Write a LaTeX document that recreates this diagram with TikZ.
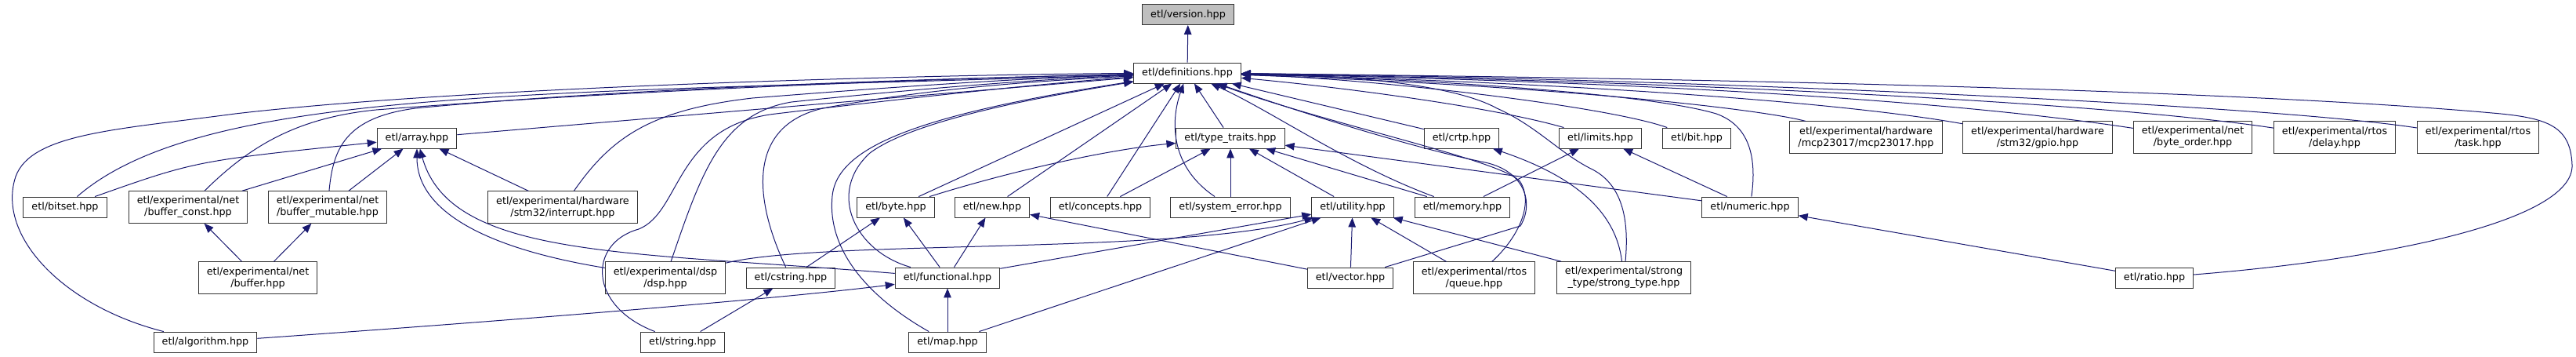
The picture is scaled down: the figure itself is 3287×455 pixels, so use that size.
\documentclass[tikz,border=0pt]{standalone}
\usepackage{fontspec}
\setmainfont{DejaVu Sans}
\definecolor{edgeblue}{HTML}{191970}
\definecolor{rootgray}{HTML}{BFBFBF}
\definecolor{boxline}{HTML}{333333}
\usetikzlibrary{arrows.meta}

\begin{document}
\begin{tikzpicture}[
  x=1pt, y=-1pt,
  file/.style={draw=boxline, fill=white, line width=0.9pt,
               font=\fontsize{12.75}{15}\selectfont, align=center,
               inner xsep=10.6pt, inner ysep=6.5pt, minimum height=26pt},
  dep/.style={edgeblue, line width=1pt, -{Triangle[length=12pt,width=9.5pt]}},
]
\useasboundingbox (0,0) rectangle (3287,455);

\node[file, fill=rootgray] (version) at (1516,18.5) {etl/version.hpp};
\node[file] (defs) at (1515,93) {etl/definitions.hpp};

\node[file] (array) at (532,176) {etl/array.hpp};
\node[file] (typetraits) at (1570,176) {etl/type\_traits.hpp};
\node[file] (crtp) at (1865,176) {etl/crtp.hpp};
\node[file] (limits) at (2042,176) {etl/limits.hpp};
\node[file] (bit) at (2165,176) {etl/bit.hpp};
\node[file] (mcp) at (2381,175) {etl/experimental/hardware\\/mcp23017/mcp23017.hpp};
\node[file] (gpio) at (2600,175) {etl/experimental/hardware\\/stm32/gpio.hpp};
\node[file] (byteorder) at (2798,175) {etl/experimental/net\\/byte\_order.hpp};
\node[file] (delay) at (2979,175) {etl/experimental/rtos\\/delay.hpp};
\node[file] (task) at (3162,175) {etl/experimental/rtos\\/task.hpp};

\node[file] (bitset) at (83,264) {etl/bitset.hpp};
\node[file] (bufconst) at (240,264) {etl/experimental/net\\/buffer\_const.hpp};
\node[file] (bufmut) at (418,264) {etl/experimental/net\\/buffer\_mutable.hpp};
\node[file] (interrupt) at (718,264) {etl/experimental/hardware\\/stm32/interrupt.hpp};
\node[file] (byte) at (1143,264) {etl/byte.hpp};
\node[file] (new) at (1266,264) {etl/new.hpp};
\node[file] (concepts) at (1404,264) {etl/concepts.hpp};
\node[file] (syserror) at (1570,264) {etl/system\_error.hpp};
\node[file] (utility) at (1726,264) {etl/utility.hpp};
\node[file] (memory) at (1866,264) {etl/memory.hpp};
\node[file] (numeric) at (2233,264) {etl/numeric.hpp};

\node[file] (buffer) at (329,354) {etl/experimental/net\\/buffer.hpp};
\node[file] (dsp) at (849,354) {etl/experimental/dsp\\/dsp.hpp};
\node[file] (cstring) at (1009,354) {etl/cstring.hpp};
\node[file] (functional) at (1209,354) {etl/functional.hpp};
\node[file] (vector) at (1723,354) {etl/vector.hpp};
\node[file] (queue) at (1881,354) {etl/experimental/rtos\\/queue.hpp};
\node[file] (strongtype) at (2072,354) {etl/experimental/strong\\\_type/strong\_type.hpp};
\node[file] (ratio) at (2749,354) {etl/ratio.hpp};

\node[file] (algorithm) at (262,436) {etl/algorithm.hpp};
\node[file] (string) at (871,436) {etl/string.hpp};
\node[file] (map) at (1209,436) {etl/map.hpp};

\draw[dep] (defs) -- (version);

% everything that pulls in definitions.hpp
\draw[dep] (array) -- (defs);
\draw[dep] (bitset) .. controls (260,110) and (700,120) .. (defs);
\draw[dep] (algorithm) .. controls (80,390) and (-5,300) .. (20,225) .. controls (40,170) and (150,165) .. (300,145) .. controls (600,110) and (1200,95) .. (defs);
\draw[dep] (bufconst) .. controls (320,185) and (380,150) .. (480,140) .. controls (800,115) and (1200,100) .. (defs);
\draw[dep] (bufmut) .. controls (425,190) and (440,150) .. (530,138) .. controls (800,112) and (1200,100) .. (defs);
\draw[dep] (interrupt) .. controls (780,175) and (830,140) .. (960,125) .. controls (1150,110) and (1300,100) .. (defs);
\draw[dep] (dsp) .. controls (895,220) and (920,145) .. (1010,130) .. controls (1200,110) and (1350,100) .. (defs);
\draw[dep] (string) .. controls (750,390) and (750,310) .. (815,292) .. controls (870,270) and (860,160) .. (990,145) .. controls (1200,120) and (1350,105) .. (defs);
\draw[dep] (cstring) .. controls (960,250) and (955,160) .. (1050,138) .. controls (1200,110) and (1350,102) .. (defs);
\draw[dep] (functional) .. controls (1090,320) and (1055,245) .. (1110,195) .. controls (1170,150) and (1350,120) .. (defs);
\draw[dep] (map) .. controls (1110,380) and (1055,320) .. (1062,250) .. controls (1068,185) and (1180,145) .. (defs);
\draw[dep] (byte) -- (defs);
\draw[dep] (new) -- (defs);
\draw[dep] (concepts) -- (defs);
\draw[dep] (syserror) .. controls (1490,210) and (1495,150) .. (defs);
\draw[dep] (typetraits) -- (defs);
\draw[dep] (memory) .. controls (1720,210) and (1620,140) .. (defs);
\draw[dep] (vector) -- (1940,288) .. controls (1958,258) and (1945,218) .. (1895,207) .. controls (1800,188) and (1650,140) .. (defs);
\draw[dep] (queue) .. controls (1935,305) and (1958,262) .. (1940,232) .. controls (1920,205) and (1700,160) .. (defs);
\draw[dep] (crtp) -- (defs);
\draw[dep] (limits) .. controls (1900,135) and (1700,110) .. (defs);
\draw[dep] (bit) .. controls (2050,135) and (1750,100) .. (defs);
\draw[dep] (strongtype) .. controls (2080,270) and (2065,232) .. (2030,215) .. controls (1990,195) and (1960,160) .. (1910,138) .. controls (1850,105) and (1700,95) .. (defs);
\draw[dep] (numeric) .. controls (2242,200) and (2232,160) .. (2190,145) .. controls (2100,118) and (1800,100) .. (defs);
\draw[dep] (mcp) .. controls (2250,140) and (2000,110) .. (defs);
\draw[dep] (gpio) .. controls (2350,130) and (2000,105) .. (defs);
\draw[dep] (byteorder) .. controls (2450,122) and (2000,102) .. (defs);
\draw[dep] (delay) .. controls (2650,125) and (2000,100) .. (defs);
\draw[dep] (task) .. controls (2870,130) and (2050,98) .. (defs);
\draw[dep] (ratio) .. controls (3050,330) and (3285,280) .. (3282,210) .. controls (3280,160) and (3250,150) .. (3180,144) .. controls (2800,110) and (2000,98) .. (defs);

% type_traits
\draw[dep] (byte) .. controls (1300,215) and (1420,190) .. (typetraits);
\draw[dep] (concepts) -- (typetraits);
\draw[dep] (syserror) -- (typetraits);
\draw[dep] (utility) -- (typetraits);
\draw[dep] (memory) -- (typetraits);
\draw[dep] (numeric) -- (typetraits);

% array
\draw[dep] (bitset) .. controls (250,205) .. (array);
\draw[dep] (bufconst) -- (array);
\draw[dep] (bufmut) -- (array);
\draw[dep] (interrupt) -- (array);
\draw[dep] (dsp) .. controls (610,315) and (532,265) .. (array);
\draw[dep] (functional) .. controls (800,320) and (575,330) .. (array);
\draw[dep] (buffer) -- (bufconst);
\draw[dep] (buffer) -- (bufmut);

\draw[dep] (cstring) -- (byte);
\draw[dep] (functional) -- (byte);
\draw[dep] (functional) -- (new);
\draw[dep] (vector) -- (new);

% utility
\draw[dep] (dsp) .. controls (1050,305) and (1500,325) .. (utility);
\draw[dep] (functional) -- (utility);
\draw[dep] (map) -- (utility);
\draw[dep] (vector) -- (utility);
\draw[dep] (queue) -- (utility);
\draw[dep] (strongtype) -- (utility);

\draw[dep] (strongtype) .. controls (2062,270) and (2010,225) .. (crtp);
\draw[dep] (memory) -- (limits);
\draw[dep] (numeric) -- (limits);
\draw[dep] (ratio) -- (numeric);
\draw[dep] (string) -- (cstring);
\draw[dep] (algorithm) .. controls (700,405) and (1000,380) .. (functional);
\draw[dep] (map) -- (functional);
\end{tikzpicture}
\end{document}
